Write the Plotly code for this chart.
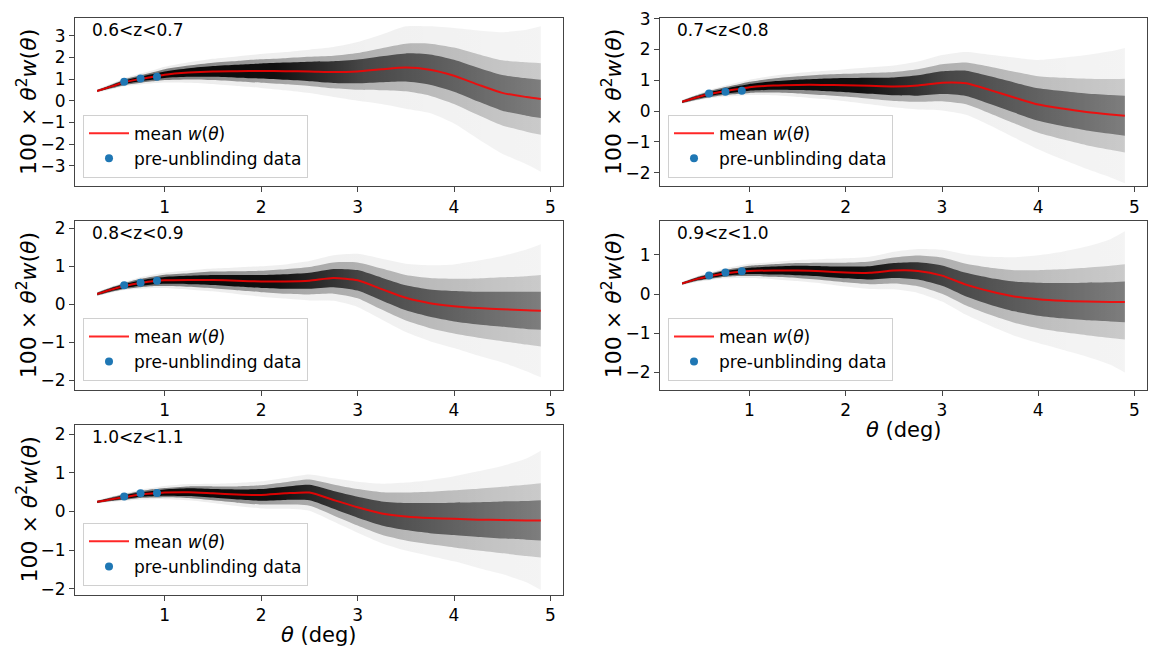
import plotly.graph_objects as go

# ---------------- data ----------------
THETA = [0.3, 0.45, 0.6, 0.75, 0.9, 1.0, 1.25, 1.5, 1.75, 2.0, 2.25, 2.5,
         2.75, 3.0, 3.25, 3.5, 3.75, 4.0, 4.25, 4.5, 4.75, 4.9]

PANEL_LABELS = ["0.6<z<0.7", "0.7<z<0.8", "0.8<z<0.9", "0.9<z<1.0", "1.0<z<1.1"]

MEAN_1 = [0.45, 0.66, 0.87, 1.0, 1.12, 1.2, 1.3, 1.35, 1.36, 1.37, 1.36, 1.35, 1.32, 1.35, 1.45, 1.53, 1.43, 1.15, 0.74, 0.36, 0.17, 0.08]
MEAN_2 = [0.3, 0.44, 0.56, 0.65, 0.72, 0.77, 0.83, 0.85, 0.85, 0.84, 0.82, 0.8, 0.83, 0.92, 0.9, 0.68, 0.44, 0.21, 0.08, -0.03, -0.11, -0.15]
MEAN_3 = [0.27, 0.39, 0.49, 0.56, 0.61, 0.63, 0.64, 0.64, 0.62, 0.6, 0.6, 0.62, 0.69, 0.63, 0.4, 0.17, 0.03, -0.05, -0.1, -0.13, -0.16, -0.17]
MEAN_4 = [0.27, 0.38, 0.46, 0.53, 0.57, 0.59, 0.6, 0.6, 0.58, 0.55, 0.54, 0.6, 0.59, 0.47, 0.24, 0.07, -0.06, -0.13, -0.17, -0.19, -0.2, -0.2]
MEAN_5 = [0.25, 0.32, 0.38, 0.44, 0.47, 0.49, 0.5, 0.47, 0.44, 0.43, 0.47, 0.49, 0.3, 0.11, -0.05, -0.13, -0.17, -0.19, -0.21, -0.22, -0.23, -0.23]

# spread of the mock realisations (half-widths): dense core, middle, faint outer
CORE_1 = [0.03, 0.05, 0.08, 0.1, 0.13, 0.15, 0.2, 0.25, 0.3, 0.35, 0.4, 0.45, 0.5, 0.55, 0.6, 0.65, 0.7, 0.74, 0.78, 0.82, 0.86, 0.88]
MID_1 = [0.05, 0.09, 0.13, 0.17, 0.21, 0.25, 0.32, 0.4, 0.47, 0.54, 0.6, 0.67, 0.75, 0.85, 0.97, 1.1, 1.2, 1.3, 1.4, 1.5, 1.6, 1.65]
OUTER_1 = [0.07, 0.13, 0.19, 0.25, 0.31, 0.36, 0.47, 0.58, 0.68, 0.78, 0.88, 1.0, 1.15, 1.35, 1.6, 1.9, 2.0, 2.2, 2.5, 2.8, 3.1, 3.35]

CORE_2 = [0.03, 0.04, 0.06, 0.08, 0.1, 0.11, 0.14, 0.17, 0.2, 0.23, 0.26, 0.29, 0.33, 0.37, 0.41, 0.45, 0.49, 0.53, 0.57, 0.6, 0.63, 0.65]
MID_2 = [0.04, 0.07, 0.1, 0.13, 0.16, 0.18, 0.23, 0.28, 0.33, 0.37, 0.42, 0.47, 0.53, 0.6, 0.68, 0.76, 0.84, 0.92, 1.0, 1.08, 1.15, 1.2]
OUTER_2 = [0.06, 0.1, 0.14, 0.18, 0.22, 0.25, 0.32, 0.39, 0.45, 0.52, 0.6, 0.68, 0.78, 0.9, 1.02, 1.15, 1.3, 1.45, 1.65, 1.85, 2.05, 2.2]

CORE_3 = [0.02, 0.04, 0.05, 0.07, 0.08, 0.09, 0.11, 0.13, 0.15, 0.17, 0.19, 0.21, 0.24, 0.27, 0.3, 0.33, 0.36, 0.4, 0.43, 0.46, 0.49, 0.5]
MID_3 = [0.04, 0.06, 0.08, 0.11, 0.13, 0.15, 0.18, 0.22, 0.25, 0.28, 0.32, 0.36, 0.41, 0.47, 0.54, 0.6, 0.66, 0.72, 0.78, 0.84, 0.9, 0.94]
OUTER_3 = [0.05, 0.08, 0.11, 0.15, 0.18, 0.2, 0.25, 0.3, 0.35, 0.4, 0.45, 0.52, 0.6, 0.7, 0.8, 0.9, 1.0, 1.1, 1.25, 1.4, 1.6, 1.75]

CORE_4 = [0.02, 0.03, 0.05, 0.06, 0.07, 0.08, 0.1, 0.12, 0.13, 0.15, 0.17, 0.19, 0.22, 0.26, 0.3, 0.34, 0.38, 0.42, 0.45, 0.48, 0.5, 0.52]
MID_4 = [0.03, 0.05, 0.07, 0.09, 0.11, 0.13, 0.16, 0.19, 0.22, 0.25, 0.29, 0.33, 0.39, 0.46, 0.53, 0.6, 0.67, 0.74, 0.8, 0.86, 0.92, 0.96]
OUTER_4 = [0.04, 0.07, 0.1, 0.13, 0.16, 0.18, 0.22, 0.27, 0.31, 0.36, 0.41, 0.48, 0.56, 0.66, 0.77, 0.88, 1.0, 1.12, 1.25, 1.4, 1.6, 1.8]

CORE_5 = [0.02, 0.03, 0.05, 0.06, 0.07, 0.08, 0.1, 0.11, 0.13, 0.15, 0.17, 0.2, 0.23, 0.27, 0.31, 0.35, 0.39, 0.42, 0.45, 0.48, 0.5, 0.52]
MID_5 = [0.03, 0.05, 0.07, 0.09, 0.11, 0.12, 0.15, 0.18, 0.21, 0.25, 0.29, 0.34, 0.4, 0.47, 0.55, 0.62, 0.68, 0.74, 0.8, 0.86, 0.92, 0.96]
OUTER_5 = [0.04, 0.07, 0.1, 0.13, 0.15, 0.17, 0.21, 0.25, 0.3, 0.35, 0.4, 0.47, 0.56, 0.66, 0.77, 0.88, 0.98, 1.1, 1.25, 1.4, 1.6, 1.8]

DATA_THETA = [0.58, 0.75, 0.92]
DATA_1 = [0.87, 1.02, 1.1]
DATA_2 = [0.57, 0.63, 0.66]
DATA_3 = [0.5, 0.57, 0.62]
DATA_4 = [0.47, 0.55, 0.58]
DATA_5 = [0.39, 0.47, 0.48]

X_TICKS = [1, 2, 3, 4, 5]
Y_RANGES = [[-3.95, 3.82], [-2.45, 3.03], [-2.25, 2.2], [-2.44, 1.87], [-2.15, 2.25]]

MEANS = [MEAN_1, MEAN_2, MEAN_3, MEAN_4, MEAN_5]
CORES = [CORE_1, CORE_2, CORE_3, CORE_4, CORE_5]
MIDS = [MID_1, MID_2, MID_3, MID_4, MID_5]
OUTERS = [OUTER_1, OUTER_2, OUTER_3, OUTER_4, OUTER_5]
DATAS = [DATA_1, DATA_2, DATA_3, DATA_4, DATA_5]

# darkness of each band along theta (left -> right)
BAND_STYLES = [
    ("outer", [[0, "rgba(0,0,0,0.08)"], [0.5, "rgba(0,0,0,0.06)"], [1, "rgba(0,0,0,0.045)"]]),
    ("mid", [[0, "rgba(0,0,0,0.55)"], [0.45, "rgba(0,0,0,0.3)"], [1, "rgba(0,0,0,0.17)"]]),
    ("core", [[0, "rgba(0,0,0,0.95)"], [0.4, "rgba(0,0,0,0.9)"], [0.6, "rgba(0,0,0,0.6)"], [1, "rgba(0,0,0,0.38)"]]),
]

# ---------------- layout geometry ----------------
W, H = 1153, 653
COLS = [(75, 563), (660, 1147)]
ROWS = [(9, 181), (216, 388.5), (424, 597.5)]
PANEL_POS = [(0, 0), (1, 0), (0, 1), (1, 1), (0, 2)]  # (col,row)
FONT = "DejaVu Sans"

fig = go.Figure()
layout = dict(
    width=W, height=H, margin=dict(l=0, r=0, t=0, b=0),
    paper_bgcolor="white", plot_bgcolor="white",
    font=dict(family=FONT, size=16, color="black"),
    showlegend=True,
)
annotations = []

for i in range(5):
    n = "" if i == 0 else str(i + 1)
    xa, ya = "x" + n, "y" + n
    col, row = PANEL_POS[i]
    x0, x1 = COLS[col]
    ytop, ybot = ROWS[row]
    xdom = [x0 / W, x1 / W]
    ydom = [1 - ybot / H, 1 - ytop / H]
    mean = MEANS[i]
    spreads = {"outer": OUTERS[i], "mid": MIDS[i], "core": CORES[i]}
    leg = "legend" + n

    # mock cloud as nested bands (outer -> core)
    for key, cscale in BAND_STYLES:
        spread = spreads[key]
        hi = [m + s for m, s in zip(mean, spread)]
        lo = [m - s for m, s in zip(mean, spread)]
        fig.add_trace(go.Scatter(
            x=THETA, y=lo, xaxis=xa, yaxis=ya, mode="lines",
            line=dict(width=0, shape="spline", smoothing=0.6),
            showlegend=False, hoverinfo="skip", legend=leg))
        fig.add_trace(go.Scatter(
            x=THETA, y=hi, xaxis=xa, yaxis=ya, mode="lines",
            line=dict(width=0, shape="spline", smoothing=0.6),
            fill="tonexty",
            fillgradient=dict(type="horizontal", colorscale=cscale,
                              start=THETA[0], stop=THETA[-1]),
            showlegend=False, hoverinfo="skip", legend=leg))

    fig.add_trace(go.Scatter(
        x=THETA, y=mean, xaxis=xa, yaxis=ya, mode="lines",
        line=dict(color="rgba(255,0,0,0.85)", width=2, shape="spline", smoothing=0.6),
        name="mean <i>w</i>(<i>θ</i>)", legend=leg))
    fig.add_trace(go.Scatter(
        x=DATA_THETA, y=DATAS[i], xaxis=xa, yaxis=ya, mode="markers",
        marker=dict(color="#1f77b4", size=8),
        name="pre-unblinding data", legend=leg))

    axcommon = dict(showline=True, linecolor="#444444", linewidth=1, mirror=True,
                    ticks="outside", ticklen=5, tickwidth=1, tickcolor="#444444",
                    showgrid=False, zeroline=False,
                    tickfont=dict(family=FONT, size=17, color="black"))
    layout["xaxis" + n] = dict(axcommon, domain=xdom, anchor=ya, range=[0.07, 5.13],
                               tickvals=X_TICKS)
    layout["yaxis" + n] = dict(axcommon, domain=ydom, anchor=xa, range=Y_RANGES[i],
                               dtick=1, tickformat="d")
    layout[leg] = dict(
        x=(x0 + 8) / W, y=1 - (ybot - 9) / H, xanchor="left", yanchor="bottom",
        bgcolor="rgba(255,255,255,0.85)", bordercolor="#d0d0d0", borderwidth=1,
        font=dict(family=FONT, size=17, color="black"), itemwidth=40,
        tracegroupgap=0, traceorder="normal")

    # panel label
    annotations.append(dict(
        text=PANEL_LABELS[i], xref=xa + " domain", yref=ya + " domain",
        x=0.03, y=0.925, xanchor="left", yanchor="middle", showarrow=False,
        font=dict(family=FONT, size=17, color="black")))
    # y-axis title
    annotations.append(dict(
        text="100 × <i>θ</i><sup>2</sup><i>w</i>(<i>θ</i>)", xref="paper", yref="paper",
        x=(x0 - 48) / W, y=(ydom[0] + ydom[1]) / 2, xanchor="center", yanchor="middle",
        textangle=-90, showarrow=False, font=dict(family=FONT, size=22, color="black")))

# x-axis titles (bottom panels of each column)
for i in (3, 4):
    col, row = PANEL_POS[i]
    x0, x1 = COLS[col]
    ytop, ybot = ROWS[row]
    annotations.append(dict(
        text="<i>θ</i> (deg)", xref="paper", yref="paper",
        x=(x0 + x1) / 2 / W, y=1 - (ybot + 41) / H, xanchor="center", yanchor="middle",
        showarrow=False, font=dict(family=FONT, size=21, color="black")))

layout["annotations"] = annotations
fig.update_layout(**layout)
fig.write_html("out.html")
